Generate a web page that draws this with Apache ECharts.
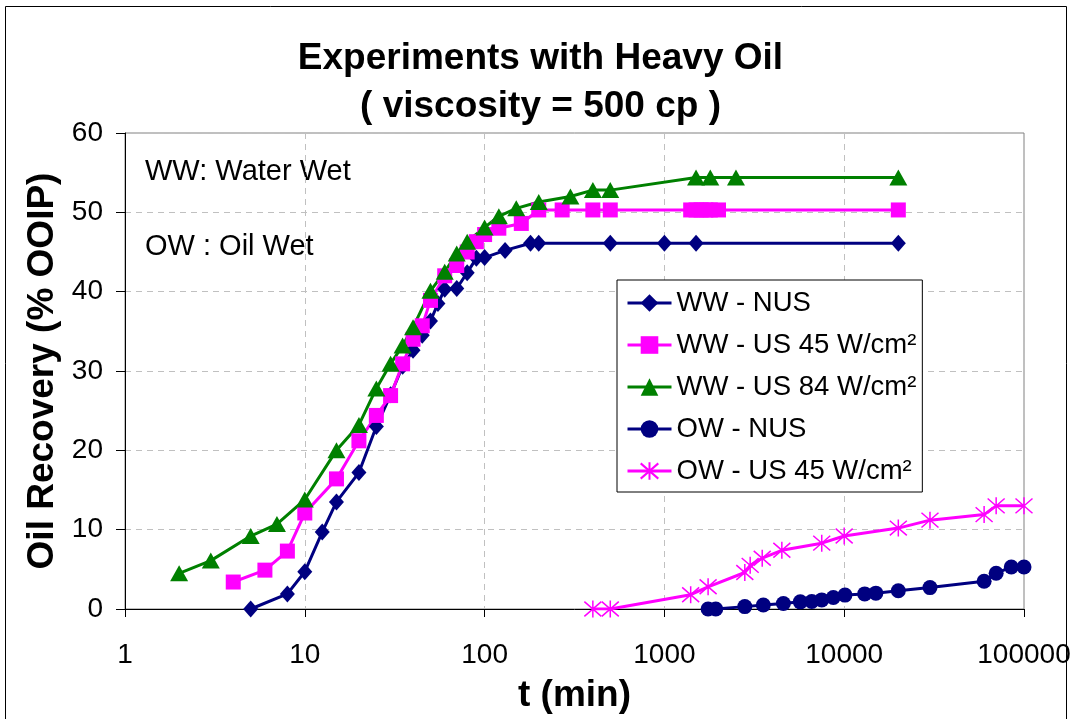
<!DOCTYPE html>
<html>
<head>
<meta charset="utf-8">
<script src="https://cdn.jsdelivr.net/npm/echarts@6/dist/echarts.min.js"></script>
<style>
html,body{margin:0;padding:0;background:#fff;}
#c{width:1081px;height:719px;}
</style>
</head>
<body>
<div id="c"></div>
<script>
// ---- data ----
const titleLines = ['Experiments with Heavy Oil', '( viscosity = 500 cp )'];
const xTickLabels = ['1', '10', '100', '1000', '10000', '100000'];
const yTickLabels = ['0', '10', '20', '30', '40', '50', '60'];
const seriesNames = ['WW - NUS', 'WW - US 45 W/cm²', 'WW - US 84 W/cm²', 'OW - NUS', 'OW - US 45 W/cm²'];

const wwNusT = [5, 8, 10, 12.5, 15, 20, 25, 30, 35, 40, 45, 50, 55, 60, 70, 80, 90, 100, 130, 180, 200, 500, 1000, 1500, 20000];
const wwNusV = [0, 1.9, 4.7, 9.7, 13.5, 17.2, 23.0, 27.0, 30.6, 32.6, 34.5, 36.3, 38.5, 40.3, 40.4, 42.4, 44.2, 44.3, 45.2, 46.1, 46.1, 46.1, 46.1, 46.1, 46.1];

const wwUs45T = [4, 6, 8, 10, 15, 20, 25, 30, 35, 40, 45, 50, 60, 70, 80, 90, 100, 120, 160, 200, 270, 400, 500, 1400, 1500, 1600, 1700, 1800, 2000, 20000];
const wwUs45V = [3.4, 4.9, 7.3, 12.1, 16.4, 21.2, 24.4, 26.9, 30.9, 34.0, 35.7, 38.9, 42.0, 43.3, 45.0, 46.3, 47.2, 48.0, 48.6, 50.3, 50.3, 50.3, 50.3, 50.3, 50.3, 50.3, 50.3, 50.3, 50.3, 50.3];

const wwUs84T = [2, 3, 5, 7, 10, 15, 20, 25, 30, 35, 40, 50, 60, 70, 80, 100, 120, 150, 200, 300, 400, 500, 1500, 1800, 2500, 20000];
const wwUs84V = [4.5, 6.1, 9.2, 10.7, 13.8, 20.0, 23.2, 27.8, 30.9, 33.2, 35.5, 40.1, 42.5, 44.8, 46.3, 48.1, 49.5, 50.5, 51.3, 52.0, 52.8, 52.8, 54.4, 54.4, 54.4, 54.4];

const owNusT = [1750, 1930, 2800, 3550, 4590, 5700, 6600, 7500, 8700, 10100, 13000, 15000, 20000, 30000, 60000, 70000, 85000, 100000];
const owNusV = [0, 0, 0.3, 0.5, 0.7, 0.9, 0.95, 1.15, 1.45, 1.75, 1.9, 2.0, 2.3, 2.7, 3.5, 4.5, 5.3, 5.3];

const owUs45T = [400, 500, 1400, 1750, 2800, 3000, 3500, 4500, 7500, 10000, 20000, 30000, 60000, 70000, 100000];
const owUs45V = [0, 0, 1.8, 2.8, 4.6, 5.5, 6.4, 7.4, 8.3, 9.2, 10.2, 11.2, 11.9, 13.0, 13.0];

// ---- build ----
function pairs(t, v) { return t.map((x, i) => [x, v[i]]); }
const NAVY = '#000080', MAG = '#FF00FF', GREEN = '#008000';
const FONT = 'Liberation Sans';
const asterisk = 'path://M0,-10L0,10M-8.66,-8.66L8.66,8.66M-8.66,8.66L8.66,-8.66';

function lineSeries(name, data, color, symbol, size, extra) {
  return Object.assign({
    name: name,
    type: 'line',
    data: data,
    symbol: symbol,
    symbolSize: size,
    showSymbol: true,
    showAllSymbol: true,
    animation: false,
    lineStyle: { color: color, width: 3 },
    itemStyle: { color: color, borderColor: color, borderWidth: 0 },
    emphasis: { disabled: true }
  }, extra || {});
}

const series = [
  lineSeries(seriesNames[0], pairs(wwNusT, wwNusV), NAVY, 'diamond', [15, 17]),
  lineSeries(seriesNames[1], pairs(wwUs45T, wwUs45V), MAG, 'rect', 15),
  lineSeries(seriesNames[2], pairs(wwUs84T, wwUs84V), GREEN, 'triangle', [18, 16]),
  lineSeries(seriesNames[3], pairs(owNusT, owNusV), NAVY, 'circle', 15),
  lineSeries(seriesNames[4], pairs(owUs45T, owUs45V), MAG, asterisk, 17, {
    itemStyle: { color: 'rgba(0,0,0,0)', borderColor: MAG, borderWidth: 1.5 }
  })
];

const chart = echarts.init(document.getElementById('c'), null, { renderer: 'canvas' });
chart.setOption({
  backgroundColor: '#fff',
  animation: false,
  title: {
    text: titleLines.join('\n'),
    left: 'center',
    top: 30,
    textStyle: { fontFamily: FONT, fontSize: 37, fontWeight: 'bold', color: '#000', lineHeight: 48 }
  },
  grid: { left: 125, right: 57, top: 133, bottom: 108, show: true, borderColor: '#808080', borderWidth: 1, backgroundColor: 'transparent' },
  xAxis: {
    type: 'log',
    logBase: 10,
    min: 1,
    max: 100000,
    name: 't (min)',
    nameLocation: 'middle',
    nameGap: 68,
    nameTextStyle: { fontFamily: FONT, fontSize: 37, fontWeight: 'bold', color: '#000' },
    axisLine: { show: true, lineStyle: { color: '#000', width: 1 } },
    axisTick: { show: true, inside: false, length: 8, lineStyle: { color: '#000' } },
    axisLabel: {
      fontFamily: FONT, fontSize: 28, color: '#000', margin: 32,
      formatter: function (v) {
        const i = Math.round(Math.log10(v));
        return xTickLabels[i] !== undefined ? xTickLabels[i] : '';
      }
    },
    splitLine: { show: true, lineStyle: { color: '#c0c0c0', type: [6, 5], width: 1 } },
    minorTick: { show: false }
  },
  yAxis: {
    type: 'value',
    min: 0,
    max: 60,
    interval: 10,
    name: 'Oil Recovery (% OOIP)',
    nameLocation: 'middle',
    nameGap: 64,
    nameTextStyle: { fontFamily: FONT, fontSize: 37, fontWeight: 'bold', color: '#000' },
    axisLine: { show: true, lineStyle: { color: '#000', width: 1 } },
    axisTick: { show: true, inside: false, length: 9, lineStyle: { color: '#000' } },
    axisLabel: {
      fontFamily: FONT, fontSize: 28, color: '#000', margin: 22,
      formatter: function (v) { const i = Math.round(v / 10); return yTickLabels[i] !== undefined ? yTickLabels[i] : ''; }
    },
    splitLine: { show: true, lineStyle: { color: '#c0c0c0', type: [6, 5], width: 1 } }
  },
  legend: {
    orient: 'vertical',
    left: 617,
    top: 280,
    data: seriesNames,
    itemWidth: 44,
    itemHeight: 22,
    itemGap: 14,
    padding: [9, 6, 7, 9],
    borderColor: '#000',
    borderWidth: 1,
    backgroundColor: '#fff',
    lineStyle: { width: 3 },
    textStyle: { fontFamily: FONT, fontSize: 27.5, color: '#000' },
    selectedMode: false
  },
  graphic: [
    { type: 'rect', shape: { x: 5.5, y: 6.5, width: 1061, height: 720 }, style: { fill: 'none', stroke: '#000', lineWidth: 1 }, silent: true, z: 100 },
    { type: 'text', style: { text: 'WW: Water Wet', x: 145, y: 172, fill: '#000', fontSize: 29, fontFamily: FONT, verticalAlign: 'middle' } },
    { type: 'text', style: { text: 'OW : Oil Wet', x: 145, y: 247, fill: '#000', fontSize: 29, fontFamily: FONT, verticalAlign: 'middle' } }
  ],
  series: series
});
</script>
</body>
</html>
